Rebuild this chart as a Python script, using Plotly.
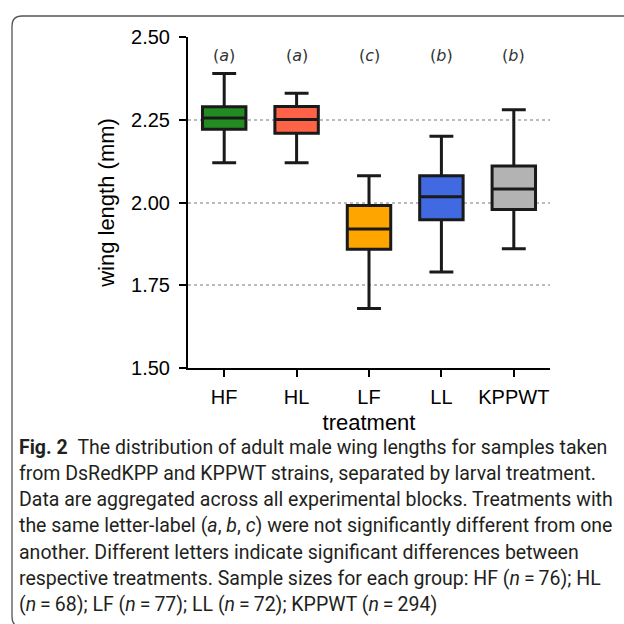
import plotly.graph_objects as go

# ---- data ----
categories = ["HF", "HL", "LF", "LL", "KPPWT"]
lower_whisker = [2.12, 2.12, 1.68, 1.79, 1.86]
q1_values = [2.221, 2.209, 1.859, 1.948, 1.979]
median_values = [2.255, 2.251, 1.920, 2.017, 2.041]
q3_values = [2.289, 2.290, 1.991, 2.081, 2.110]
upper_whisker = [2.39, 2.33, 2.081, 2.20, 2.28]
letter_labels = ["a", "a", "c", "b", "b"]
box_colors = ["#228B22", "#FF6347", "#FFA500", "#4169E1", "#B3B3B3"]
y_ticks = [1.50, 1.75, 2.00, 2.25, 2.50]
y_tick_labels = ["1.50", "1.75", "2.00", "2.25", "2.50"]
caption_lines = [
    "<b>Fig. 2</b>\u00a0\u00a0The distribution of adult male wing lengths for samples taken",
    "from DsRedKPP and KPPWT strains, separated by larval treatment.",
    "Data are aggregated across all experimental blocks. Treatments with",
    "the same letter-label (<i>a</i>, <i>b</i>, <i>c</i>) were not significantly different from one",
    "another. Different letters indicate significant differences between",
    "respective treatments. Sample sizes for each group: HF (<i>n</i>\u2009=\u200976); HL",
    "(<i>n</i>\u2009=\u200968); LF (<i>n</i>\u2009=\u200977); LL (<i>n</i>\u2009=\u200972); KPPWT (<i>n</i>\u2009=\u2009294)",
]

W, H = 624, 624
L, R, T, B = 188, 74, 37, 256
PW, PH = W - L - R, H - T - B


def px(x):
    return (x - L) / PW


def py(y):
    return (H - B - y) / PH


fig = go.Figure()
for i, cat in enumerate(categories):
    fig.add_trace(go.Box(
        x=[cat],
        q1=[q1_values[i]], median=[median_values[i]], q3=[q3_values[i]],
        lowerfence=[lower_whisker[i]], upperfence=[upper_whisker[i]],
        fillcolor=box_colors[i],
        line=dict(color="#1a1a1a", width=3),
        width=0.6, whiskerwidth=0.55,
        boxpoints=False, showlegend=False, hoverinfo="skip",
    ))

for cat, lab in zip(categories, letter_labels):
    fig.add_annotation(x=cat, y=2.445, xref="x", yref="y", text=f"(<i>{lab}</i>)",
                       showarrow=False, font=dict(family="DejaVu Sans", size=16, color="#333333"))

font_cap = dict(family="Roboto, sans-serif", size=19.5, color="#231f20")
for k, line in enumerate(caption_lines):
    fig.add_annotation(x=px(17), y=py(447 + k * 26.3), xref="paper", yref="paper",
                       xanchor="left", yanchor="middle", text=line, showarrow=False,
                       font=font_cap)

# border with rounded corners
pts = "M {0},{1} L {2},{1} Q {3},{1} {3},{4} L {3},{5} Q {3},{6} {2},{6} L {0},{6}".format(
    px(700), py(627), px(22), px(12), py(617), py(26), py(16))
fig.add_shape(type="path", path=pts, xref="paper", yref="paper",
              line=dict(color="#555555", width=1.3))

fig.update_layout(
    width=W, height=H, margin=dict(l=L, r=R, t=T, b=B),
    paper_bgcolor="white", plot_bgcolor="white", boxmode="overlay",
    font=dict(family="Liberation Sans, Arial, sans-serif", color="black"),
)
fig.update_xaxes(
    type="category", categoryorder="array", categoryarray=categories, range=[-0.5, 4.5],
    showline=True, linecolor="black", linewidth=2, ticks="outside", ticklen=7,
    tickwidth=2, tickcolor="black", showgrid=False, ticklabelstandoff=3,
    tickfont=dict(size=20), title=dict(text="treatment", font=dict(size=22), standoff=8),
)
fig.update_yaxes(
    range=[1.5, 2.5], tickvals=y_ticks, ticktext=y_tick_labels,
    showline=True, linecolor="black", linewidth=2, ticks="outside", ticklen=7,
    tickwidth=2, tickcolor="black", showgrid=True, gridcolor="#bbbbbb",
    griddash="dot", gridwidth=1.5, zeroline=False, ticklabelstandoff=5,
    tickfont=dict(size=20), title=dict(text="wing length (mm)", font=dict(size=22), standoff=10),
)

fig.write_html("out.html")
